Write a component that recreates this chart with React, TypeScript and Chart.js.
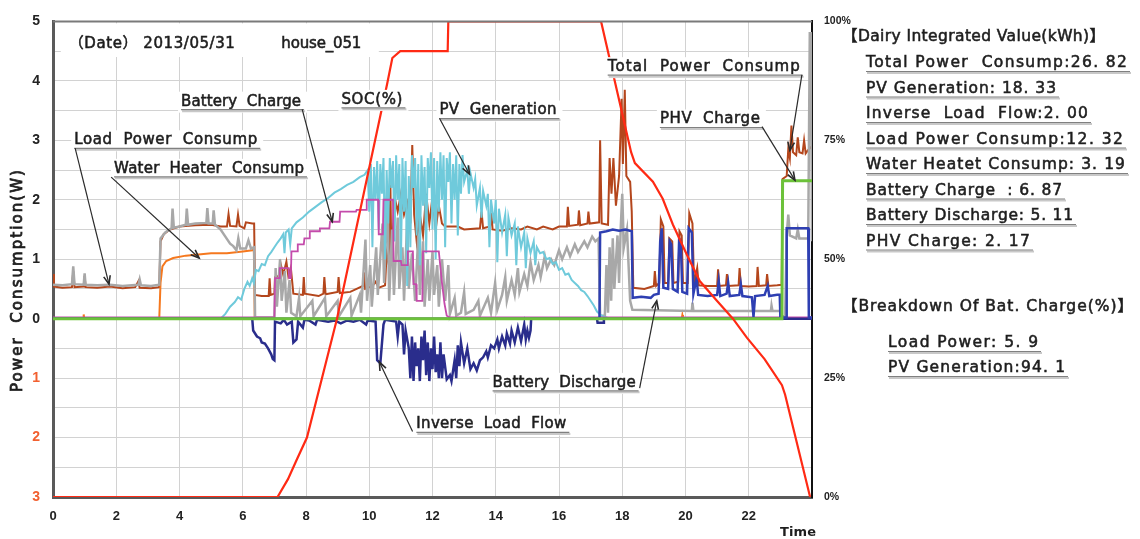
import { useEffect, useRef } from 'react';
import { Chart, registerables } from 'chart.js';

Chart.register(...registerables);

type Pt = [number, number];

// ---------- header texts ----------
const dateText = '（Date） 2013/05/31';
const houseText = 'house_051';

// ---------- series (hour, value) ----------
const totalPowerConsump: Pt[] = [
  [0, 0.75], [0.03, 0.54], [0.3, 0.52], [0.6, 0.53], [0.64, 0.8], [0.68, 0.53], [0.97, 0.54], [1.0, 0.72], [1.03, 0.53],
  [1.4, 0.52], [1.8, 0.54], [2.2, 0.51], [2.6, 0.53], [2.7, 0.63], [2.74, 0.52], [3.1, 0.51], [3.36, 0.53], [3.4, 1.3],
  [3.5, 1.42], [3.7, 1.5], [4.0, 1.55], [4.5, 1.57], [5.0, 1.58], [5.3, 1.55], [5.5, 1.55], [5.55, 1.76], [5.6, 1.56],
  [5.8, 1.55], [5.85, 1.75], [5.9, 1.56], [6.05, 1.52], [6.1, 1.62], [6.3, 1.6], [6.36, 1.6], [6.39, 0.4], [6.6, 0.38],
  [6.82, 0.38], [6.85, 0.68], [6.88, 0.4], [7.0, 0.42], [7.02, 0.7], [7.15, 0.72], [7.2, 0.92], [7.28, 0.74], [7.38, 0.96],
  [7.44, 0.72], [7.52, 0.86], [7.6, 0.42], [7.9, 0.4], [7.93, 0.7], [7.96, 0.42], [8.4, 0.38], [8.55, 0.42], [8.58, 0.7],
  [8.62, 0.41], [9.0, 0.45], [9.03, 0.7], [9.07, 0.43], [9.4, 0.45], [9.6, 0.5], [9.8, 0.55], [9.83, 0.78], [9.87, 0.5],
  [10.1, 0.55], [10.2, 0.62], [10.3, 0.52], [10.5, 0.56], [10.55, 1.1], [10.62, 0.9], [10.66, 2.58], [10.7, 1.0],
  [10.8, 2.05], [10.9, 1.8], [11.0, 2.1], [11.1, 1.75], [11.2, 1.95], [11.3, 1.6], [11.36, 2.92], [11.42, 1.75],
  [11.5, 1.3], [11.6, 1.75], [11.7, 1.4], [11.8, 2.1], [11.9, 1.6], [12.0, 2.05], [12.1, 1.5], [12.2, 1.9], [12.3, 1.6],
  [12.4, 1.55], [12.8, 1.55], [13.0, 1.5], [13.5, 1.52], [13.55, 1.8], [13.6, 1.52], [13.82, 1.55], [13.86, 1.78],
  [13.9, 1.5], [14.2, 1.48], [14.5, 1.52], [14.8, 1.5], [15.0, 1.55], [15.3, 1.5], [15.5, 1.55], [15.8, 1.5], [16.0, 1.55],
  [16.25, 1.55], [16.28, 1.88], [16.32, 1.56], [16.6, 1.58], [16.63, 1.82], [16.67, 1.57], [16.9, 1.6], [16.93, 1.8],
  [16.97, 1.6], [17.27, 1.62], [17.3, 3.0], [17.35, 1.6], [17.55, 1.58], [17.6, 2.7], [17.66, 2.1], [17.72, 2.7],
  [17.8, 1.9], [17.9, 2.4], [17.98, 3.7], [18.02, 2.6], [18.08, 3.85], [18.13, 2.4], [18.25, 2.3], [18.3, 1.8],
  [18.35, 0.52], [18.7, 0.5], [19.0, 0.55], [19.03, 0.8], [19.07, 0.55], [19.17, 0.6], [19.22, 1.67], [19.3, 1.55],
  [19.34, 0.6], [19.45, 0.6], [19.49, 1.35], [19.58, 1.3], [19.62, 0.6], [19.77, 0.62], [19.81, 1.47], [19.88, 1.4],
  [19.92, 0.6], [20.07, 0.6], [20.12, 1.77], [20.22, 1.6], [20.27, 0.58], [20.37, 0.85], [20.42, 0.56], [20.7, 0.55],
  [21.0, 0.55], [21.03, 0.83], [21.07, 0.55], [21.28, 0.56], [21.31, 0.75], [21.35, 0.55], [21.68, 0.56], [21.71, 0.85],
  [21.75, 0.55], [22.0, 0.54], [22.25, 0.55], [22.28, 0.87], [22.32, 0.55], [22.55, 0.56], [22.58, 0.75], [22.62, 0.55],
  [22.9, 0.56], [23.04, 0.57], [23.07, 2.35], [23.2, 2.4], [23.25, 2.85], [23.3, 2.7], [23.35, 3.25], [23.4, 2.8],
  [23.5, 2.75], [23.55, 3.05], [23.6, 2.8], [23.7, 2.78], [23.75, 3.0], [23.8, 2.78], [23.9, 2.85], [24, 2.9],
];

const loadPowerConsump: Pt[] = [
  [0, 0.57], [0.3, 0.56], [0.6, 0.58], [0.64, 0.88], [0.68, 0.58], [0.97, 0.57], [1.0, 0.76], [1.03, 0.57], [1.4, 0.56],
  [1.8, 0.57], [2.2, 0.55], [2.7, 0.57], [2.74, 0.66], [2.78, 0.56], [3.1, 0.55], [3.36, 0.57], [3.4, 1.35], [3.55, 1.45],
  [3.75, 1.52], [3.78, 1.85], [3.82, 1.53], [4.0, 1.55], [4.2, 1.58], [4.23, 1.85], [4.27, 1.58], [4.5, 1.6], [4.85, 1.61],
  [4.88, 1.86], [4.92, 1.6], [5.05, 1.6], [5.08, 1.82], [5.12, 1.58], [5.3, 1.5], [5.45, 1.38], [5.6, 1.26], [5.7, 1.22],
  [5.8, 1.15], [5.86, 1.35], [5.92, 1.18], [6.1, 1.18], [6.18, 1.32], [6.26, 1.18], [6.36, 1.2], [6.39, 0.02], [7.0, 0.02],
  [7.04, 0.85], [7.08, 0.2], [7.18, 1.0], [7.23, 0.3], [7.33, 0.8], [7.38, 0.1], [7.48, 0.65], [7.53, 0.1], [7.7, 0.04],
  [7.78, 0.35], [7.82, 0.04], [8.2, 0.3], [8.24, 0.04], [8.6, 0.35], [8.64, 0.04], [9.0, 0.3], [9.04, 0.04], [9.4, 0.35],
  [9.44, 0.05], [9.7, 0.4], [9.74, 0.1], [9.88, 1.33], [9.93, 0.3], [10.03, 0.9], [10.08, 0.2], [10.22, 1.2], [10.27, 0.4],
  [10.42, 1.6], [10.47, 0.6], [10.58, 2.05], [10.63, 0.3], [10.72, 1.5], [10.78, 0.4], [10.9, 1.7], [10.95, 0.5],
  [11.05, 1.2], [11.1, 0.3], [11.2, 1.65], [11.25, 0.5], [11.35, 1.1], [11.45, 0.3], [11.55, 1.4], [11.6, 0.4], [11.7, 1.3],
  [11.75, 0.2], [11.85, 1.0], [11.9, 0.3], [12.0, 1.13], [12.05, 0.4], [12.15, 0.9], [12.2, 0.2], [12.3, 1.0], [12.4, 0.3],
  [12.5, 0.9], [12.55, 0.08], [12.7, 0.35], [12.75, 0.05], [12.9, 0.1], [13.0, 0.45], [13.05, 0.08], [13.3, 0.15],
  [13.45, 0.3], [13.5, 0.05], [13.75, 0.35], [13.85, 0.1], [13.98, 0.6], [14.05, 0.15], [14.2, 0.4], [14.3, 0.7],
  [14.35, 0.3], [14.5, 0.65], [14.6, 0.4], [14.7, 0.85], [14.75, 0.45], [14.9, 0.75], [15.0, 0.55], [15.1, 0.95],
  [15.2, 0.65], [15.35, 0.9], [15.42, 0.7], [15.55, 1.05], [15.62, 0.85], [15.75, 1.0], [15.85, 0.9], [16.0, 1.15],
  [16.1, 1.0], [16.25, 1.2], [16.35, 1.05], [16.5, 1.25], [16.6, 1.12], [16.8, 1.3], [16.9, 1.2], [17.05, 1.38],
  [17.15, 1.3], [17.25, 1.35], [17.3, 0.05], [17.45, 0.05], [17.5, 0.9], [17.55, 0.1], [17.6, 1.2], [17.65, 0.3],
  [17.7, 1.35], [17.75, 0.5], [17.85, 1.4], [17.9, 0.6], [17.95, 1.5], [18.0, 2.1], [18.05, 1.2], [18.15, 1.5],
  [18.25, 0.3], [18.32, 0.15], [20.2, 0.13], [20.22, 0.27], [20.25, 0.13], [22.7, 0.13], [22.72, 0.22], [22.75, 0.13],
  [23.0, 0.13], [23.05, 0.04], [23.15, 0.04], [23.2, 1.4], [23.25, 1.75], [23.3, 1.4], [23.5, 1.35], [23.55, 1.5],
  [23.6, 1.35], [23.88, 1.35], [23.93, 4.8], [23.97, 4.8], [24, 1.3],
];

const waterHeaterConsump: Pt[] = [
  [0, 0], [0.95, 0], [0.97, 0.07], [0.99, 0], [3.36, 0], [3.4, 0.6], [3.46, 0.88], [3.58, 0.97], [3.8, 1.02], [4.2, 1.06],
  [4.6, 1.08], [5.0, 1.1], [5.5, 1.1], [6.0, 1.13], [6.3, 1.15], [6.35, 1.18], [6.38, 0], [19.88, 0], [19.9, 0.06],
  [19.92, 0], [24, 0],
];

const pvGeneration: Pt[] = [
  [0, 0], [5.3, 0], [5.45, 0.08], [5.6, 0.2], [5.75, 0.28], [5.85, 0.36], [5.95, 0.32], [6.05, 0.5], [6.15, 0.62],
  [6.22, 0.55], [6.3, 0.68], [6.35, 0.6], [6.42, 0.82], [6.5, 0.8], [6.6, 0.92], [6.7, 0.9], [6.8, 1.05], [6.9, 1.12],
  [7.0, 1.2], [7.1, 1.28], [7.2, 1.35], [7.28, 1.42], [7.32, 1.1], [7.36, 1.45], [7.45, 1.5], [7.5, 1.25], [7.55, 1.52],
  [7.7, 1.62], [7.9, 1.7], [8.1, 1.8], [8.3, 1.88], [8.5, 1.96], [8.7, 2.03], [8.9, 2.12], [9.1, 2.18], [9.3, 2.25],
  [9.5, 2.3], [9.7, 2.38], [9.85, 2.42], [9.95, 2.5], [10.0, 1.8], [10.05, 2.6], [10.1, 1.2], [10.15, 2.55], [10.2, 2.0],
  [10.25, 2.65], [10.3, 1.5], [10.35, 2.6], [10.4, 2.1], [10.45, 2.7], [10.5, 1.0], [10.55, 2.5], [10.6, 1.6],
  [10.65, 2.7], [10.7, 2.2], [10.75, 2.65], [10.8, 1.3], [10.85, 2.75], [10.9, 2.0], [10.95, 2.6], [11.0, 0.9],
  [11.05, 2.7], [11.1, 1.8], [11.15, 2.65], [11.2, 0.55], [11.25, 2.4], [11.3, 1.2], [11.35, 2.75], [11.4, 2.2],
  [11.45, 2.7], [11.5, 1.4], [11.55, 2.6], [11.6, 0.9], [11.65, 2.75], [11.7, 1.9], [11.75, 2.55], [11.8, 1.1],
  [11.85, 2.7], [11.9, 2.2], [11.95, 2.8], [12.0, 1.5], [12.05, 2.7], [12.1, 1.0], [12.15, 2.65], [12.2, 1.8],
  [12.25, 2.8], [12.3, 2.0], [12.35, 2.75], [12.4, 1.2], [12.45, 2.7], [12.5, 2.3], [12.55, 2.8], [12.6, 1.6],
  [12.65, 2.6], [12.7, 2.0], [12.75, 2.75], [12.8, 1.4], [12.85, 2.6], [12.9, 2.1], [12.95, 2.75], [13.0, 2.3],
  [13.1, 2.5], [13.15, 2.1], [13.2, 2.45], [13.3, 2.2], [13.35, 2.35], [13.4, 1.9], [13.5, 2.2], [13.55, 1.7],
  [13.6, 2.15], [13.7, 1.9], [13.75, 2.1], [13.8, 1.2], [13.85, 2.0], [13.95, 1.6], [14.0, 2.0], [14.05, 0.95],
  [14.1, 1.85], [14.2, 1.45], [14.3, 1.75], [14.35, 1.05], [14.4, 1.7], [14.5, 1.4], [14.6, 1.6], [14.65, 0.9],
  [14.7, 1.55], [14.8, 1.2], [14.9, 1.45], [14.95, 0.85], [15.0, 1.35], [15.1, 1.1], [15.2, 1.3], [15.25, 0.9],
  [15.3, 1.2], [15.4, 1.1], [15.5, 1.12], [15.6, 1.0], [15.7, 1.02], [15.8, 0.92], [15.9, 0.95], [16.0, 0.82],
  [16.1, 0.85], [16.2, 0.74], [16.3, 0.76], [16.4, 0.65], [16.5, 0.6], [16.6, 0.55], [16.7, 0.48], [16.8, 0.45],
  [16.9, 0.38], [17.0, 0.3], [17.1, 0.22], [17.2, 0.12], [17.35, 0.05], [17.5, 0.02], [17.6, 0], [24, 0],
];

const batteryCharge: Pt[] = [
  [0, 0.02], [7.0, 0.02], [7.02, 0.68], [7.15, 0.68], [7.17, 0.85], [7.45, 0.85], [7.47, 0.68], [7.52, 0.68], [7.54, 1.13],
  [7.72, 1.13], [7.74, 1.25], [7.93, 1.25], [7.95, 1.35], [8.1, 1.35], [8.12, 1.47], [8.42, 1.47], [8.44, 1.52],
  [8.74, 1.52], [8.76, 1.63], [9.06, 1.63], [9.08, 1.8], [9.58, 1.8], [9.6, 1.83], [9.9, 1.83], [9.92, 2.0], [10.28, 2.0],
  [10.3, 1.42], [10.43, 1.42], [10.45, 2.0], [10.75, 2.0], [10.77, 0.97], [11.0, 0.97], [11.02, 0.9], [11.2, 0.9],
  [11.22, 1.13], [11.38, 1.13], [11.4, 0.58], [11.48, 0.58], [11.5, 0.3], [11.68, 0.3], [11.7, 1.13], [12.2, 1.13],
  [12.3, 0.6], [12.38, 0.25], [12.45, 0.05], [12.55, 0.02], [24, 0.02],
];

const inverseLoadFlow: Pt[] = [
  [0, 0], [6.3, 0], [6.33, -0.2], [6.45, -0.3], [6.55, -0.33], [6.6, -0.4], [6.7, -0.42], [6.8, -0.5], [6.9, -0.6],
  [6.95, -0.68], [7.0, -0.7], [7.02, -0.05], [7.2, -0.08], [7.3, -0.02], [7.4, -0.1], [7.55, -0.05], [7.6, -0.4],
  [7.7, -0.35], [7.75, -0.05], [7.9, -0.15], [7.95, -0.02], [8.1, -0.03], [8.3, -0.1], [8.35, -0.02], [8.7, -0.05],
  [8.9, -0.03], [9.1, -0.08], [9.3, -0.03], [9.5, -0.05], [9.7, -0.02], [9.9, -0.1], [9.95, -0.03], [10.2, -0.05],
  [10.25, -0.7], [10.35, -0.75], [10.45, -0.1], [10.5, -0.02], [10.85, -0.05], [10.9, -0.3], [10.95, -0.05],
  [11.05, -0.1], [11.1, -0.6], [11.15, -0.2], [11.25, -0.5], [11.3, -1.0], [11.35, -0.3], [11.4, -1.05], [11.45, -0.4],
  [11.5, -0.8], [11.55, -0.5], [11.6, -1.05], [11.65, -0.3], [11.7, -0.7], [11.75, -0.2], [11.8, -0.95], [11.85, -0.4],
  [11.9, -1.05], [11.95, -0.5], [12.0, -0.85], [12.05, -0.3], [12.1, -0.9], [12.15, -0.6], [12.2, -1.0], [12.25, -0.4],
  [12.3, -1.0], [12.35, -0.6], [12.45, -1.02], [12.55, -0.95], [12.6, -1.05], [12.7, -0.7], [12.75, -1.0], [12.8, -0.45],
  [12.85, -0.8], [12.9, -0.4], [13.0, -0.75], [13.1, -0.5], [13.2, -0.85], [13.3, -0.75], [13.4, -0.87], [13.5, -0.7],
  [13.6, -0.65], [13.7, -0.55], [13.75, -0.65], [13.85, -0.45], [13.95, -0.5], [14.05, -0.35], [14.1, -0.5],
  [14.2, -0.3], [14.3, -0.45], [14.35, -0.25], [14.45, -0.42], [14.5, -0.2], [14.6, -0.4], [14.7, -0.15], [14.8, -0.38],
  [14.9, -0.1], [14.95, -0.35], [15.0, -0.2], [15.05, -0.32], [15.1, -0.2], [15.12, 0], [17.2, 0], [17.22, -0.07],
  [17.4, -0.07], [17.42, 0], [24, 0],
];

const batteryDischarge: Pt[] = [
  [0, 0], [17.28, 0], [17.3, 1.45], [17.5, 1.47], [17.7, 1.5], [17.9, 1.48], [18.1, 1.5], [18.3, 1.47], [18.33, 0.35],
  [18.6, 0.37], [18.9, 0.35], [19.0, 0.4], [19.15, 0.42], [19.2, 1.3], [19.25, 1.52], [19.3, 0.52], [19.45, 0.5],
  [19.5, 1.3], [19.55, 1.25], [19.6, 0.5], [19.75, 0.45], [19.8, 1.35], [19.85, 1.3], [19.9, 0.45], [20.05, 0.42],
  [20.1, 1.52], [20.2, 1.45], [20.25, 0.42], [20.35, 0.68], [20.4, 0.4], [20.7, 0.38], [21.0, 0.4], [21.05, 0.63],
  [21.1, 0.38], [21.3, 0.42], [21.35, 0.6], [21.4, 0.38], [21.7, 0.4], [21.75, 0.58], [21.8, 0.38], [22.1, 0.36],
  [22.15, 0.03], [22.2, 0.38], [22.5, 0.4], [22.6, 0.55], [22.65, 0.38], [22.9, 0.4], [22.98, 0.4], [23.0, 0.02],
  [23.18, 0.02], [23.2, 1.52], [23.88, 1.52], [23.9, 0.02], [24, 0.02],
];

const phvCharge: Pt[] = [
  [0, 0], [23.05, 0], [23.07, 2.32], [24, 2.32],
];

const socPercent: Pt[] = [
  [0, 0], [7.1, 0], [7.43, 3.75], [7.71, 7.9], [8.03, 12.5], [8.98, 37.5], [10.57, 87], [10.73, 92.3], [10.98, 93.75],
  [12.48, 93.75], [12.5, 100], [17.33, 100], [18.28, 72.5], [18.4, 70.2], [18.97, 66.3], [19.28, 62.7], [19.6, 57.3],
  [20.04, 51], [20.45, 45.4], [21.0, 41.2], [21.5, 37.5], [21.94, 33.5], [22.5, 29], [23.05, 23.5], [23.15, 21.5],
  [23.94, 0],
];

// ---------- side panel texts ----------
const dailyTitle = '【Dairy Integrated Value(kWh)】';
const dailyValues = [
  'Total Power  Consump:26. 82',
  'PV Generation: 18. 33',
  'Inverse  Load  Flow:2. 00',
  'Load Power Consump:12. 32',
  'Water Heatet Consump: 3. 19',
  'Battery Charge  : 6. 87',
  'Battery Discharge: 5. 11',
  'PHV Charge: 2. 17',
];
const breakdownTitle = '【Breakdown Of Bat. Charge(%)】';
const breakdownValues = ['Load Power: 5. 9', 'PV Generation:94. 1'];

// ---------- in-plot callouts (anchors in hours / kW) ----------
const callouts = [
  { text: 'Load  Power  Consump', h: 0.67, v: 3.0, from: [0.7, 2.87], to: [1.77, 0.58] },
  { text: 'Water  Heater  Consump', h: 1.93, v: 2.52, from: [1.84, 2.38], to: [4.62, 1.02] },
  { text: 'Battery  Charge', h: 4.05, v: 3.65, from: [7.88, 3.52], to: [8.83, 1.63] },
  { text: 'SOC(%)', h: 9.12, v: 3.68 },
  { text: 'PV  Generation', h: 12.22, v: 3.5, from: [12.22, 3.37], to: [13.17, 2.43] },
  { text: 'Total  Power  Consump', h: 17.54, v: 4.23, from: [23.68, 4.1], to: [23.3, 2.83] },
  { text: 'PHV  Charge', h: 19.19, v: 3.35, from: [22.42, 3.23], to: [23.46, 2.33] },
  { text: 'Battery  Discharge', h: 13.9, v: -1.08, from: [18.55, -1.17], to: [19.09, 0.3] },
  { text: 'Inverse  Load  Flow', h: 11.49, v: -1.78, from: [11.37, -1.9], to: [10.32, -0.73] },
];

// layout (pixel widths of texts, matching the reference)
const calloutWidths = [183, 190, 120, 61, 117, 192, 100, 143, 150];
const dailyWidths = [261, 190, 222, 257, 259, 196, 207, 164];
const breakdownWidths = [150, 177];

const TEXT_FONT = '15px "DejaVu Sans", "Noto Sans CJK JP", sans-serif';
const PANEL_FONT = '15.5px "DejaVu Sans", "Noto Sans CJK JP", sans-serif';

function fitText(ctx: any, text: string, x: number, cy: number, w: number, font: string, stroke = 0.55) {
  ctx.font = font;
  ctx.letterSpacing = '0px';
  const m = ctx.measureText(text).width;
  const n = Array.from(text).length;
  const ls = n > 1 ? (w - m) / (n - 1) : 0;
  ctx.letterSpacing = ls.toFixed(2) + 'px';
  ctx.textAlign = 'left';
  ctx.textBaseline = 'middle';
  ctx.fillText(text, x, cy);
  if (stroke > 0) {
    ctx.strokeStyle = ctx.fillStyle;
    ctx.lineWidth = stroke;
    ctx.strokeText(text, x, cy);
  }
  ctx.letterSpacing = '0px';
}

function underline(ctx: any, x: number, y: number, w: number) {
  ctx.save();
  ctx.strokeStyle = '#c8c8c8';
  ctx.lineWidth = 2;
  ctx.beginPath();
  ctx.moveTo(x + 1, y + 1.5);
  ctx.lineTo(x + w + 4, y + 1.5);
  ctx.stroke();
  ctx.strokeStyle = '#808080';
  ctx.lineWidth = 1.2;
  ctx.beginPath();
  ctx.moveTo(x, y);
  ctx.lineTo(x + w + 3, y);
  ctx.stroke();
  ctx.restore();
}

function arrow(ctx: any, x1: number, y1: number, x2: number, y2: number) {
  ctx.save();
  ctx.strokeStyle = '#2a2a2a';
  ctx.lineWidth = 1.2;
  ctx.beginPath();
  ctx.moveTo(x1, y1);
  ctx.lineTo(x2, y2);
  ctx.stroke();
  const a = Math.atan2(y2 - y1, x2 - x1);
  const L = 9;
  const s = 0.38;
  ctx.lineWidth = 1.6;
  ctx.beginPath();
  ctx.moveTo(x2 - L * Math.cos(a - s), y2 - L * Math.sin(a - s));
  ctx.lineTo(x2, y2);
  ctx.lineTo(x2 - L * Math.cos(a + s), y2 - L * Math.sin(a + s));
  ctx.stroke();
  ctx.restore();
}

const overlayPlugin = {
  id: 'overlay',
  afterDatasetsDraw(chart: any) {
    const { ctx, chartArea: a, scales } = chart;
    const px = (h: number) => scales.x.getPixelForValue(h);
    const py = (v: number) => scales.y.getPixelForValue(v);
    ctx.save();

    // header box with date + house id
    const dx = px(0.5);
    const dy = py(4.62);
    ctx.fillStyle = '#ffffff';
    ctx.fillRect(dx - 8, a.top + 2, 318, dy + 13 - (a.top + 2));
    ctx.fillStyle = '#1e1e1e';
    fitText(ctx, dateText, dx, dy, 166, TEXT_FONT);
    fitText(ctx, houseText, px(7.22), dy, 80, TEXT_FONT);

    // callout labels
    callouts.forEach((c, i) => {
      const x = px(c.h);
      const y = py(c.v);
      const w = calloutWidths[i];
      ctx.fillStyle = '#ffffff';
      ctx.fillRect(x - 3, y - 10, w + 9, 21);
      ctx.fillStyle = '#1e1e1e';
      fitText(ctx, c.text, x, y, w, TEXT_FONT);
      underline(ctx, x, y + 8, w);
    });
    callouts.forEach((c) => {
      if (c.from && c.to) arrow(ctx, px(c.from[0]), py(c.from[1]), px(c.to[0]), py(c.to[1]));
    });

    // top frame line
    ctx.strokeStyle = '#7a7a7a';
    ctx.lineWidth = 2;
    ctx.beginPath();
    ctx.moveTo(a.left, a.top);
    ctx.lineTo(a.right, a.top);
    ctx.stroke();
    ctx.restore();
  },
  afterDraw(chart: any) {
    const { ctx, chartArea: a } = chart;
    ctx.save();
    ctx.fillStyle = '#1e1e1e';

    // y title
    ctx.save();
    ctx.translate(18, 281);
    ctx.rotate(-Math.PI / 2);
    fitText(ctx, 'Power  Consumption(W)', -111, 0, 222, '15px "DejaVu Sans", sans-serif', 0.8);
    ctx.restore();

    // x title
    fitText(ctx, 'Time', a.right - 32, 533, 36, 'bold 13px "DejaVu Sans", sans-serif', 0);

    // side panel
    fitText(ctx, dailyTitle, 842, 37, 263, PANEL_FONT);
    dailyValues.forEach((t, i) => {
      const y = 63 + i * 25.5;
      fitText(ctx, t, 866, y, dailyWidths[i], PANEL_FONT);
      underline(ctx, 866, y + 8.5, dailyWidths[i]);
    });
    fitText(ctx, breakdownTitle, 842, 307, 291, PANEL_FONT);
    breakdownValues.forEach((t, i) => {
      const y = 343 + i * 25;
      fitText(ctx, t, 888, y, breakdownWidths[i], PANEL_FONT);
      underline(ctx, 888, y + 8.5, breakdownWidths[i]);
    });
    ctx.restore();
  },
};

const toXY = (pts: Pt[]) => pts.map(([x, y]) => ({ x, y }));

function line(data: Pt[], color: string, width: number, axis = 'y') {
  return {
    data: toXY(data),
    borderColor: color,
    backgroundColor: color,
    borderWidth: width,
    pointRadius: 0,
    tension: 0,
    fill: false,
    yAxisID: axis,
  };
}

export default function App() {
  const ref = useRef<HTMLCanvasElement>(null);

  useEffect(() => {
    const canvas = ref.current;
    if (!canvas) return;
    const tickFont = { family: '"Liberation Sans", Arial, sans-serif', weight: 'bold' as const };
    const chart = new Chart(canvas, {
      type: 'line',
      data: {
        datasets: [
          { label: 'SOC(%)', ...line(socPercent, '#ff2a14', 2.2, 'ySoc') },
          { label: 'PHV Charge', ...line(phvCharge, '#6cc23a', 3) },
          { label: 'Battery Discharge', ...line(batteryDischarge, '#2e3fb2', 2.5) },
          { label: 'Inverse Load Flow', ...line(inverseLoadFlow, '#2a2d8c', 2.5) },
          { label: 'Battery Charge', ...line(batteryCharge, '#c44bab', 1.8) },
          { label: 'PV Generation', ...line(pvGeneration, '#6fcadb', 2) },
          { label: 'Load Power Consump', ...line(loadPowerConsump, '#a8a8a8', 2.5) },
          { label: 'Water Heater Consump', ...line(waterHeaterConsump, '#f5781e', 2) },
          { label: 'Total Power Consump', ...line(totalPowerConsump, '#b4461c', 2) },
        ] as any,
      },
      options: {
        animation: false,
        responsive: false,
        devicePixelRatio: 1,
        events: [],
        layout: { padding: { top: 17, left: 0, right: 0, bottom: 0 } },
        plugins: { legend: { display: false }, tooltip: { enabled: false }, title: { display: false } },
        scales: {
          x: {
            type: 'linear',
            min: 0,
            max: 24,
            afterFit: (s: any) => { s.height = 42; },
            ticks: {
              stepSize: 2,
              padding: 12,
              color: '#222',
              autoSkip: false,
              maxRotation: 0,
              font: { ...tickFont, size: 13 },
              callback: (v: any) => (v === 24 ? '' : String(v)),
            },
            grid: { color: '#d2d2d2', lineWidth: 1, drawTicks: false },
            border: { color: '#5a5a5a', width: 3 },
          },
          y: {
            type: 'linear',
            position: 'left',
            min: -3,
            max: 5,
            afterFit: (s: any) => { s.width = 53; },
            ticks: {
              stepSize: 0.5,
              padding: 13,
              autoSkip: false,
              font: { ...tickFont, size: 14 },
              color: (c: any) => (c.tick && c.tick.value < 0 ? '#f26030' : '#222'),
              callback: (v: any) => (Number.isInteger(v) ? String(Math.abs(v)) : ''),
            },
            grid: { color: '#d2d2d2', lineWidth: 1, drawTicks: false },
            border: { color: '#5a5a5a', width: 3 },
          },
          ySoc: {
            type: 'linear',
            position: 'right',
            min: 0,
            max: 100,
            afterFit: (s: any) => { s.width = 328; },
            ticks: {
              stepSize: 25,
              padding: 12,
              color: '#222',
              font: { ...tickFont, size: 10.5 },
              callback: (v: any) => `${v}%`,
            },
            grid: { display: false, drawTicks: false },
            border: { color: '#111', width: 2 },
          },
        },
      } as any,
      plugins: [overlayPlugin],
    });
    return () => chart.destroy();
  }, []);

  return (
    <div style={{ position: 'fixed', left: 0, top: 0, width: 1140, height: 539, background: '#fff' }}>
      <canvas ref={ref} width={1140} height={539} style={{ display: 'block', width: 1140, height: 539 }} />
    </div>
  );
}
